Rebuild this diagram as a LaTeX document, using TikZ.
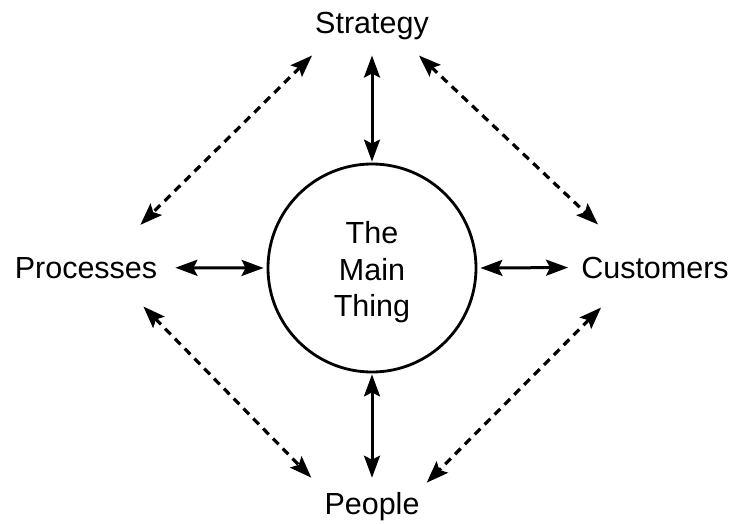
\documentclass[tikz,border=0pt]{standalone}
\usepackage{fontspec}
\setmainfont{Liberation Sans}
\usetikzlibrary{arrows.meta, positioning}

\begin{document}
\begin{tikzpicture}[
        x=1pt, y=-1pt,
        >={Stealth[length=22pt, width=16pt, inset=4pt]},
        lbl/.style={inner sep=0pt, anchor=base, font=\fontsize{30.5}{36}\selectfont},
        link/.style={<->, line width=3pt},
        dlink/.style={<->, line width=3.2pt, dash pattern=on 8pt off 6pt}
    ]
        \useasboundingbox (0,0) rectangle (734,523);

        % centre circle
        \node[circle, draw, line width=2.8pt, minimum size=208pt, inner sep=0pt,
              font=\fontsize{30.5}{36.5}\selectfont] (main) at (372,268)
              {\raisebox{-5pt}[\height][\depth]{\begin{tabular}{@{}c@{}}The\\Main\\Thing\end{tabular}}};

        % the four labels
        \node[lbl] (strategy)  at (372,33)  {Strategy};
        \node[lbl] (people)    at (372,514) {People};
        \node[lbl] (processes) at (86,278)  {Processes};
        \node[lbl] (customers) at (655,278) {Customers};

        % solid links to the centre
        \draw[link, shorten <=16pt, shorten >=1pt] (strategy.south) -- (main.north);
        \draw[link, shorten <=14pt, shorten >=1pt] (people.north) -- (main.south);
        \draw[link, shorten <=18pt, shorten >=3pt] (processes.east) -- (main.west);
        \draw[link, shorten <=13pt, shorten >=3pt] (customers.west) -- (main.east);

        % dashed links round the outside
        \draw[dlink] ([shift={(-3,16)}]strategy.south west) -- ([shift={(-17,-32)}]processes.north east);
        \draw[dlink] ([shift={(-10,16)}]strategy.south east) -- ([shift={(17,-32)}]customers.north west);
        \draw[dlink] ([shift={(-14,28)}]processes.south east) -- ([shift={(-13,-14)}]people.north west);
        \draw[dlink] ([shift={(20,29)}]customers.south west) -- ([shift={(7,-9)}]people.north east);
    \end{tikzpicture}
\end{document}
